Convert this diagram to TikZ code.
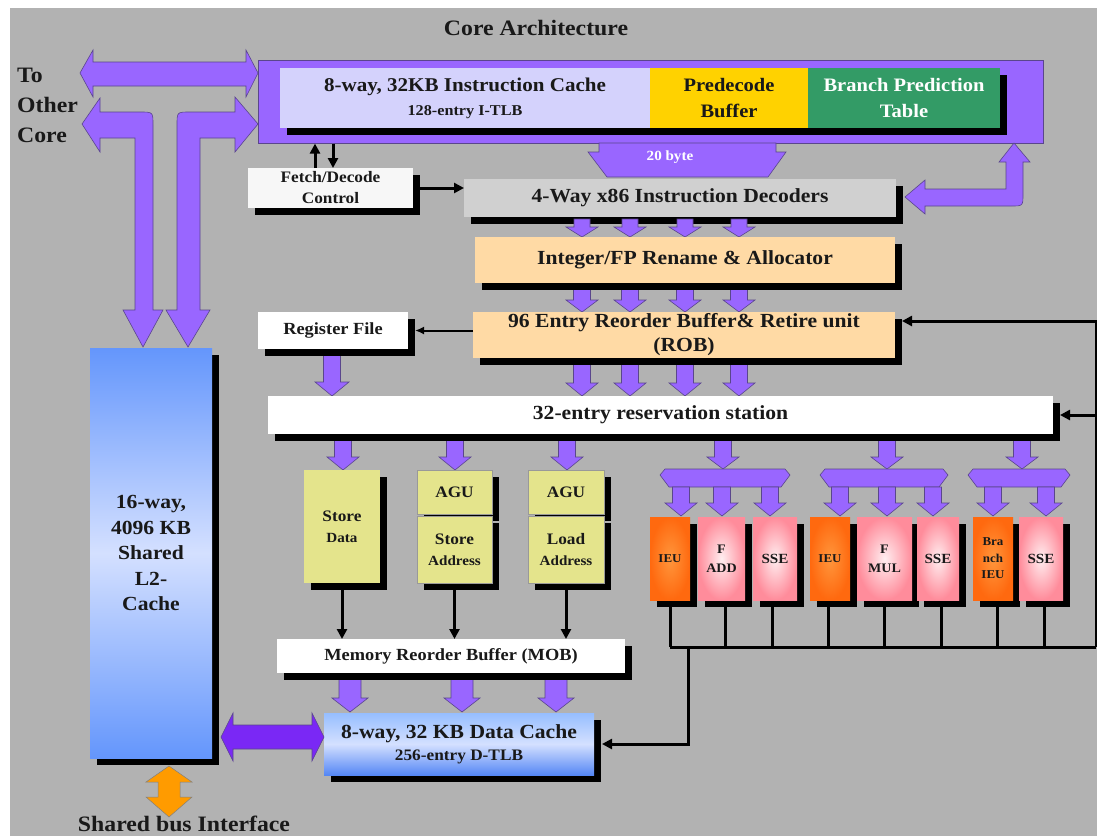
\documentclass[tikz,border=0pt]{standalone}
\usepackage{fontspec}
\setmainfont[FakeStretch=1.08]{Liberation Serif}
\usetikzlibrary{arrows.meta,shadows}
\definecolor{bg}{RGB}{178,178,178}
\definecolor{purp}{RGB}{153,102,255}
\definecolor{purpD}{RGB}{122,40,245}
\definecolor{purpline}{RGB}{90,70,140}
\definecolor{lav}{RGB}{212,210,252}
\definecolor{gold}{RGB}{255,210,0}
\definecolor{bgreen}{RGB}{51,155,102}
\definecolor{decgray}{RGB}{208,208,208}
\definecolor{peach}{RGB}{255,218,165}
\definecolor{ylw}{RGB}{228,228,140}
\definecolor{ieuor}{RGB}{255,105,15}
\definecolor{ieuin}{RGB}{255,150,60}
\definecolor{pinkA}{RGB}{255,140,155}
\definecolor{pinkB}{RGB}{255,238,240}
\definecolor{blueA}{RGB}{100,150,252}
\definecolor{blueB}{RGB}{212,224,255}
\definecolor{blueC}{RGB}{150,190,255}
\definecolor{blueD}{RGB}{85,135,245}
\definecolor{orangeA}{RGB}{255,155,0}
\definecolor{txt}{RGB}{25,25,25}
\tikzset{
  pics/dnarr/.style args={#1/#2/#3/#4}{code={%
    \path[fill=purp, draw=purpline, line width=0.6pt, pic actions]
      (-#2,0) -- (#2,0) -- (#2,#1-#4) -- (#3,#1-#4) -- (0,#1) -- (-#3,#1-#4) -- (-#2,#1-#4) -- cycle;}},
}
\begin{document}
\begin{tikzpicture}[x=1pt,y=-1pt,
  box/.style={anchor=north west, inner sep=0pt, outer sep=0pt, align=center, text=txt,
     general shadow={fill=black, shadow xshift=7pt, shadow yshift=-7pt}},
  pshape/.style={fill=purp, draw=purpline, line width=0.6pt},
  wire/.style={line width=3pt, draw=black},
  conn/.style={wire, -{Triangle[length=10pt,width=10pt]}},
  unitO/.style={box, inner color=ieuin, outer color=ieuor, minimum height=83pt},
  unitP/.style={box, inner color=pinkB, outer color=pinkA, minimum height=83pt},
  f22/.style={font=\bfseries\fontsize{22}{30}\selectfont},
  f20/.style={font=\bfseries\fontsize{20}{24}\selectfont},
  f19/.style={font=\bfseries\fontsize{19}{26}\selectfont},
  f17/.style={font=\bfseries\fontsize{17}{21}\selectfont},
  f16/.style={font=\bfseries\fontsize{16}{21}\selectfont},
  f14/.style={font=\bfseries\fontsize{14}{19}\selectfont},
  f13/.style={font=\bfseries\fontsize{13}{19}\selectfont},
  f12/.style={font=\bfseries\fontsize{12}{16.5}\selectfont},
]
\useasboundingbox (0,0) rectangle (1097,836);
\fill[white] (0,0) rectangle (1097,836);
\fill[bg] (10,8) rectangle (1097,836);

% titles
\node[f22, text=txt] (title) at (536,28) {Core Architecture};
\node[f22, text=txt, anchor=north west, align=left, inner sep=0pt] (other) at (17,68) {To\\Other\\Core};

% top-left arrows
\path[pshape] (80,73) -- (93,50) -- (93,62) -- (246,62) -- (246,50) -- (258,73) -- (246,97) -- (246,86) -- (93,86) -- (93,97) -- cycle;
\path[pshape] (82,124) -- (100,98) -- (100,112) -- (140,112) .. controls (153,112) .. (153,125) -- (153,310) -- (163,310) -- (143,347) -- (123,310) -- (135,310) -- (135,138) -- (100,138) -- (100,152) -- cycle;
\path[pshape] (258,124) -- (235,97) -- (235,112) -- (190,112) .. controls (177,112) .. (177,125) -- (177,310) -- (166,310) -- (188,347) -- (210,310) -- (200,310) -- (200,138) -- (235,138) -- (235,152) -- cycle;

% block arrows that start behind the boxes' shadows
\foreach \x in {582,630,685,739} {
  \pic at (\x,283) {dnarr=29/8.5/16/12};
  \pic at (\x,358) {dnarr=38/8.5/16/13};
}
\pic at (332,349) {dnarr=47/8.5/17/14};
\foreach \x in {343,455,567} { \pic at (\x,434) {dnarr=36/8.5/16/13}; }
\foreach \x in {723,887,1022} { \pic at (\x,434) {dnarr=35/8.5/16/12}; }
\foreach \x in {350,462,556} { \pic[fill=purpD] at (\x,673) {dnarr=39/11/18/14}; }

% instruction fetch block
\node[anchor=north west, inner sep=0pt, minimum width=785pt, minimum height=83pt, fill=purp, draw=purpline, line width=0.6pt] (ibox) at (258,60) {};
\node[box, fill=lav, minimum width=370pt, minimum height=60pt, font=\bfseries\fontsize{19.5}{24}\selectfont] (icache) at (280,68)
  {8-way, 32KB Instruction Cache\\\fontsize{15}{24}\selectfont 128-entry I-TLB};
\node[box, f19, fill=gold, minimum width=158pt, minimum height=60pt] (pre) at (650,68) {Predecode\\Buffer};
\node[box, f19, fill=bgreen, text=white, minimum width=192pt, minimum height=60pt] (bpt) at (808,68) {Branch Prediction\\Table};

% 20 byte
\path[pshape] (599,143) -- (776,143) -- (776,152) -- (786,152) -- (768,177) -- (607,177) -- (588,152) -- (599,152) -- cycle;
\node[f14, text=white] (b20) at (670,157) {20 byte};

% decoders stage
\node[box, f16, fill=white!97!black, minimum width=165pt, minimum height=40pt] (fetch) at (248,168) {Fetch/Decode\\Control};
\node[box, f20, fill=decgray, minimum width=432pt, minimum height=38pt] (dec) at (464,179) {4-Way x86 Instruction Decoders};
\path[pshape] (905,197) -- (925,180) -- (925,189) -- (1006,189) -- (1006,162) -- (999,162) -- (1014,143) -- (1030,162) -- (1023,162) -- (1023,194) .. controls (1023,206) .. (1011,206) -- (925,206) -- (925,214) -- cycle;
\foreach \x in {582,630,685,739} { \pic at (\x,219) {dnarr=18/8/16/10}; }

\draw[conn, line width=3pt] ([xshift=-15.5pt]fetch.north) -- ([xshift=-15.5pt]fetch.north |- ibox.south);
\draw[conn, line width=3pt] ([xshift=2.5pt]fetch.north |- ibox.south) -- ([xshift=2.5pt]fetch.north);
\draw[conn, line width=3pt] ([xshift=7pt]fetch.east) -- (fetch.east -| dec.west);

\node[box, f20, fill=peach, minimum width=420pt, minimum height=46pt] (ren) at (475,237) {Integer/FP Rename \& Allocator};
\node[box, f20, fill=peach, minimum width=422pt, minimum height=46pt] (rob) at (473,312) {96 Entry Reorder Buffer\& Retire unit\\(ROB)};
\node[box, f17, fill=white, minimum width=150pt, minimum height=37pt] (rf) at (258,312) {Register File};
\node[box, f20, fill=white, minimum width=785pt, minimum height=38pt] (rs) at (268,396) {32-entry reservation station};
\draw[conn, line width=2pt, -{Latex[length=9pt,width=8pt]}] (rob.west |- rf.east) -- ([xshift=7pt]rf.east);

% memory units
\node[box, fill=ylw, minimum width=76pt, minimum height=113pt, font=\bfseries\fontsize{16}{21}\selectfont] (sd) at (304,470)
  {Store\\\fontsize{14}{21}\selectfont Data};
\node[box, f16, fill=ylw, draw=black!40, minimum width=75pt, minimum height=44pt] (agua) at (417,470) {AGU};
\node[box, fill=ylw, draw=black!40, minimum width=75pt, minimum height=67pt, font=\bfseries\fontsize{16}{21}\selectfont] (sa) at (417,516)
  {Store\\\fontsize{14}{21}\selectfont Address};
\node[box, f16, fill=ylw, draw=black!40, minimum width=76pt, minimum height=44pt] (agub) at (528,470) {AGU};
\node[box, fill=ylw, draw=black!40, minimum width=76pt, minimum height=67pt, font=\bfseries\fontsize{16}{21}\selectfont] (la) at (528,516)
  {Load\\\fontsize{14}{21}\selectfont Address};

\node[box, f17, fill=white, minimum width=348pt, minimum height=34pt] (mob) at (277,639) {Memory Reorder Buffer (MOB)};
\draw[conn] ([yshift=-7pt]sd.south) -- (sd.south |- mob.north);
\draw[conn] ([yshift=-7pt]sa.south) -- (sa.south |- mob.north);
\draw[conn] ([yshift=-7pt]la.south) -- (la.south |- mob.north);

\node[box, top color=blueC, bottom color=blueD, middle color=blueB, minimum width=270pt, minimum height=62pt,
  font=\bfseries\fontsize{20}{22}\selectfont] (dc) at (324,713)
  {8-way, 32 KB Data Cache\\\fontsize{16}{22}\selectfont 256-entry D-TLB};

% L2
\node[box, top color=blueA, bottom color=blueA, middle color=blueB, minimum width=122pt, minimum height=410pt,
  font=\bfseries\fontsize{20}{25.5}\selectfont] (l2) at (90,348) {16-way,\\4096 KB\\Shared\\L2-\\Cache};
\path[pshape, fill=purpD] (221,737) -- (233,713) -- (233,725) -- (312,725) -- (312,713) -- (324,737) -- (312,761) -- (312,749) -- (233,749) -- (233,761) -- cycle;
\path[fill=orangeA, draw=black!50, line width=0.5pt] (169,766) -- (192,782) -- (180,782) -- (180,797) -- (192,797) -- (169,817) -- (146,797) -- (158,797) -- (158,782) -- (146,782) -- cycle;
\node[f22, text=txt] (sbi) at (184,824) {Shared bus Interface};

% execution units
\foreach \a/\b in {660/790, 820/948, 968/1070} {
  \path[pshape] (\a+5,469) -- (\b-5,469) -- (\b,475) -- (\b-9,487) -- (\a+9,487) -- (\a,475) -- cycle;
}
\foreach \x in {681,722,770,840,887,933,993,1046} { \pic at (\x,487) {dnarr=29/8.5/16/13}; }

\node[unitO, f12, minimum width=40pt] (ieua) at (650,517) {IEU};
\node[unitP, f13, minimum width=47pt] (fadd) at (698,517) {F\\ADD};
\node[unitP, f14, minimum width=44pt] (ssea) at (753,517) {SSE};
\node[unitO, f12, minimum width=40pt] (ieub) at (810,517) {IEU};
\node[unitP, f13, minimum width=55pt] (fmul) at (857,517) {F\\MUL};
\node[unitP, f14, minimum width=42pt] (sseb) at (917,517) {SSE};
\node[unitO, f12, minimum width=40pt] (bieu) at (973,517) {Bra\\nch\\IEU};
\node[unitP, f14, minimum width=44pt] (ssec) at (1019,517) {SSE};

\coordinate (busl) at (670,647);
\coordinate (busr) at (1096,647);
\coordinate (fbrob) at (1096,321);
\coordinate (fbrs) at (1096,415);
\coordinate (drop) at (688,647);
\foreach \u/\dx in {ieua/0, fadd/4, ssea/-3, ieub/-2, fmul/-0.5, sseb/3, bieu/4, ssec/3} {
  \draw[wire] ([xshift=\dx pt, yshift=-7pt]\u.south) -- ([xshift=\dx pt]\u.south |- busl);
}
\draw[wire] (busl) -- (busr);
\draw[conn] (busr) -- (fbrob) -- ([xshift=7pt]rob.east |- fbrob);
\draw[conn] (fbrs) -- ([xshift=7pt]rs.east |- fbrs);
\draw[conn] (drop) |- ([xshift=8pt]dc.east);
\end{tikzpicture}
\end{document}
